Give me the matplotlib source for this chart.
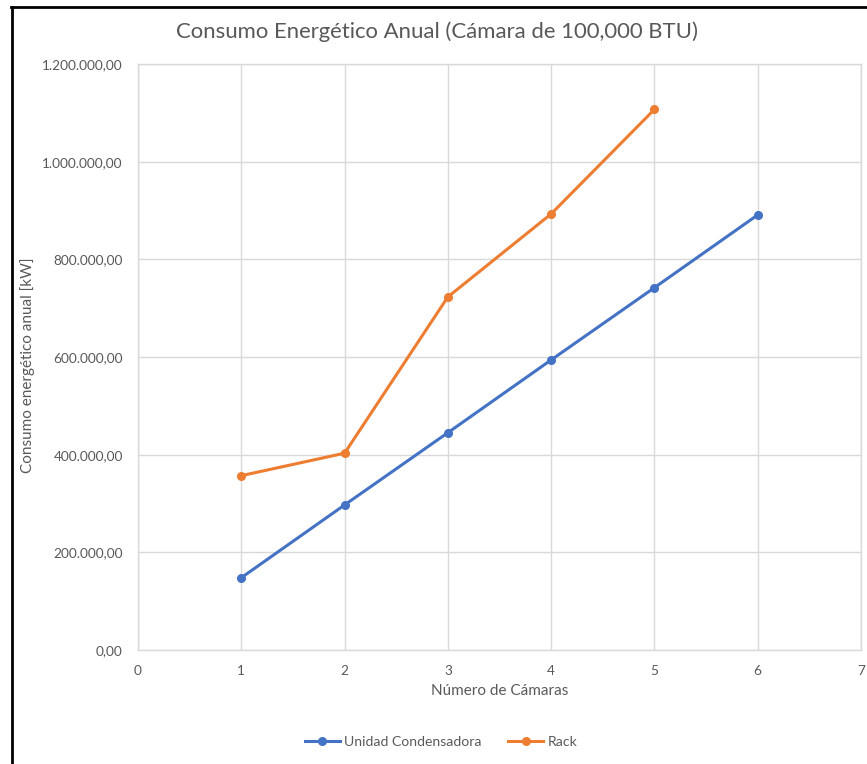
import matplotlib
matplotlib.use("Agg")
import matplotlib.pyplot as plt
from matplotlib.lines import Line2D
from matplotlib.ticker import FuncFormatter, MultipleLocator

# Annual energy consumption by number of cold rooms
camaras_uc = [1, 2, 3, 4, 5, 6]
consumo_uc = [148000, 297000, 445000, 594000, 742000, 891000]
camaras_rack = [1, 2, 3, 4, 5]
consumo_rack = [357000, 403000, 723000, 893000, 1107000]

titulo = "Consumo Energético Anual (Cámara de 100,000 BTU)"
etiqueta_x = "Número de Cámaras"
etiqueta_y = "Consumo energético anual [kW]"
series = ["Unidad Condensadora", "Rack"]

GRIS_TEXTO = "#595959"
GRID = "#D9D9D9"
AZUL = "#4472C4"
NARANJA = "#ED7D31"

plt.rcParams["font.family"] = ["Lato", "DejaVu Sans"]

W, H = 867, 764
fig = plt.figure(figsize=(W / 100, H / 100), dpi=100)
ax = fig.add_axes([138 / W, (H - 650) / H, (861 - 138) / W, (650 - 64) / H])

ax.plot(camaras_uc, consumo_uc, color=AZUL, lw=2.2, marker="o", ms=5.5,
        label=series[0], zorder=3)
ax.plot(camaras_rack, consumo_rack, color=NARANJA, lw=2.2, marker="o", ms=5.5,
        label=series[1], zorder=3)

ax.set_xlim(0, 7)
ax.set_ylim(0, 1200000)
ax.xaxis.set_major_locator(MultipleLocator(1))
ax.yaxis.set_major_locator(MultipleLocator(200000))


def formato_es(v, pos):
    s = f"{v:,.2f}"
    return s.replace(",", "X").replace(".", ",").replace("X", ".")


ax.yaxis.set_major_formatter(FuncFormatter(formato_es))
ax.grid(True, color=GRID, lw=1)
ax.set_axisbelow(True)
for sp in ax.spines.values():
    sp.set_color(GRID)
    sp.set_linewidth(1)
ax.tick_params(length=0, colors=GRIS_TEXTO, labelsize=9.8)
ax.tick_params(axis="y", pad=11)
ax.tick_params(axis="x", pad=11)

ax.set_xlabel(etiqueta_x, color=GRIS_TEXTO, fontsize=11)
ax.set_ylabel(etiqueta_y, color=GRIS_TEXTO, fontsize=11)
ax.xaxis.set_label_coords(0.5, -(691 - 650) / (650 - 64), transform=ax.transAxes)
ax.yaxis.set_label_coords((28 - 138) / (861 - 138), (650 - 365) / (650 - 64),
                          transform=ax.transAxes)
ax.xaxis.label.set_va("center")
ax.yaxis.label.set_va("center")

fig.text(437 / W, 1 - 32 / H, titulo, ha="center", va="center",
         color=GRIS_TEXTO, fontsize=15.9)

fig.legend(loc="center", bbox_to_anchor=(441 / W, 1 - 742 / H), ncol=2,
           frameon=False, fontsize=10.1, labelcolor=GRIS_TEXTO,
           handlelength=2.5, columnspacing=1.9, handletextpad=0.3)

# outer chart frame
fig.add_artist(Line2D([12 / W, 12 / W], [0, 1 - 6.5 / H], color="black",
                      lw=2, transform=fig.transFigure))
fig.add_artist(Line2D([11.3 / W, 1], [1 - 6.5 / H, 1 - 6.5 / H], color="black",
                      lw=2, transform=fig.transFigure))

fig.savefig("out.png", dpi=100)
